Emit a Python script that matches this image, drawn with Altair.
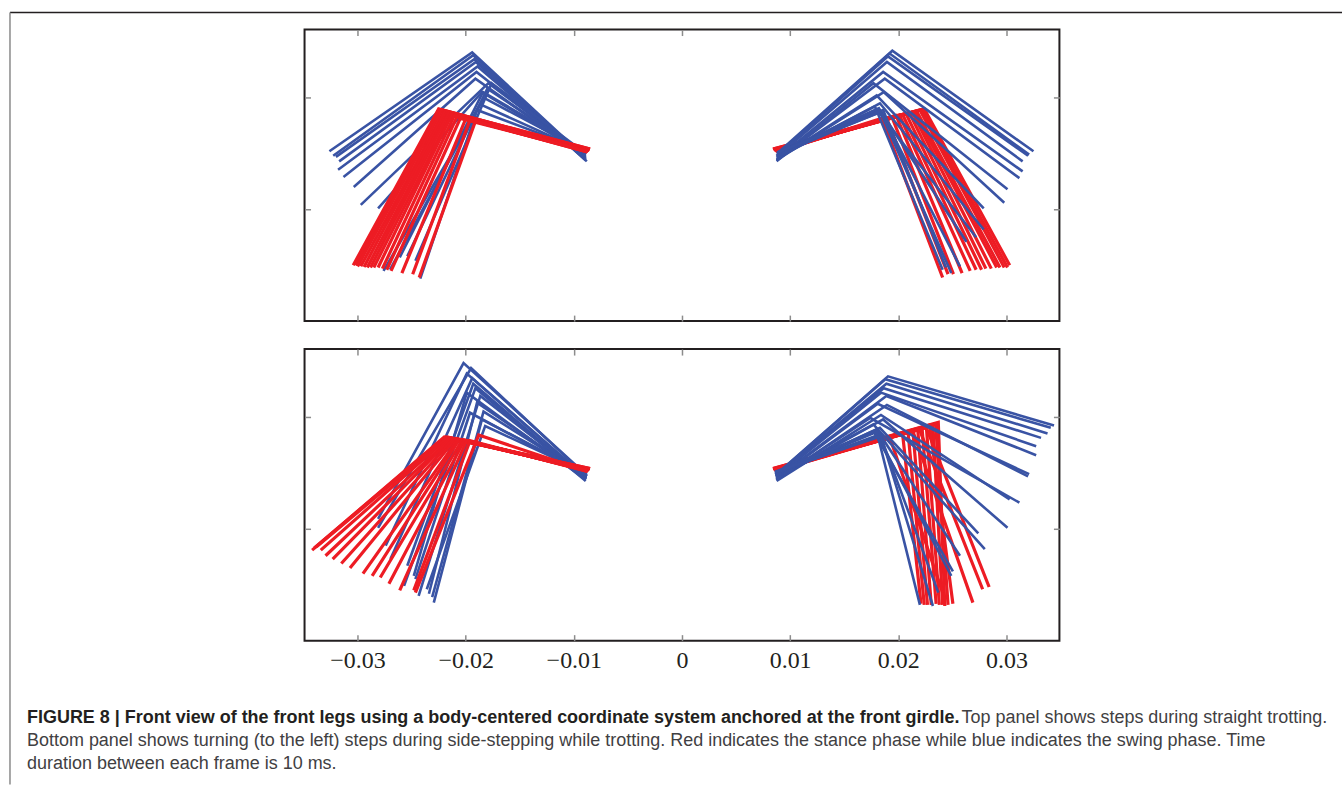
import altair as alt
import pandas as pd

# Leg stick figures seen from the front. One tuple per video frame:
# (hip_x, hip_y, knee_x, knee_y, foot_x, foot_y), in millimetres, in a
# body-centred frame anchored at the front girdle.

# ---- straight trotting ----
TOP_LEFT_SWING = [
    (-8.9, -15.4, -19.4, -5.95, -32.6, -14.8),
    (-8.9, -15.5, -19.3, -6.2, -32.25, -15.2),
    (-8.8, -15.7, -19.2, -6.55, -32.0, -15.3),
    (-8.9, -15.6, -19.05, -6.8, -31.7, -15.7),
    (-8.9, -15.5, -18.9, -7.2, -31.8, -16.45),
    (-8.9, -15.4, -19.0, -7.7, -31.3, -17.1),
    (-8.9, -15.3, -19.1, -8.3, -30.35, -18.0),
    (-8.9, -15.2, -17.9, -8.7, -29.7, -19.6),
    (-8.9, -15.1, -18.5, -9.5, -28.1, -19.9),
    (-8.9, -15.0, -17.6, -8.7, -24.65, -24.6),
    (-8.9, -15.0, -18.0, -9.2, -25.4, -24.2),
    (-8.8, -14.9, -18.4, -9.5, -26.1, -24.3),
    (-8.8, -14.9, -18.35, -10.0, -27.0, -25.4),
    (-8.8, -14.9, -18.65, -10.6, -27.6, -25.5),
    (-8.8, -14.8, -18.95, -11.1, -24.2, -26.2),
]
TOP_LEFT_STANCE = [
    (-8.5, -14.6, -22.5, -11.0, -30.4, -25.0),
    (-8.5, -14.6, -22.35, -11.07, -30.2, -25.0),
    (-8.55, -14.65, -22.2, -11.1, -30.0, -25.1),
    (-8.55, -14.65, -22.0, -11.2, -29.7, -25.1),
    (-8.6, -14.7, -21.9, -11.25, -29.4, -25.15),
    (-8.6, -14.7, -21.7, -11.3, -29.1, -25.2),
    (-8.6, -14.7, -21.6, -11.4, -28.8, -25.2),
    (-8.65, -14.75, -21.4, -11.5, -28.5, -25.2),
    (-8.65, -14.75, -21.3, -11.55, -28.1, -25.2),
    (-8.65, -14.75, -21.05, -11.6, -27.7, -25.3),
    (-8.7, -14.8, -20.8, -11.7, -27.3, -25.4),
    (-8.7, -14.8, -20.5, -11.85, -26.9, -25.5),
    (-8.7, -14.8, -20.0, -11.9, -25.9, -25.7),
    (-8.75, -14.85, -19.6, -12.0, -24.9, -25.8),
    (-8.75, -14.85, -19.1, -12.1, -24.3, -26.1),
]
TOP_RIGHT_SWING = [
    (8.8, -15.0, 19.45, -5.8, 32.5, -14.8),
    (8.8, -15.1, 19.2, -6.05, 32.1, -15.1),
    (8.75, -15.2, 19.05, -6.3, 32.0, -15.2),
    (8.75, -15.3, 18.95, -6.8, 31.5, -15.7),
    (8.75, -15.5, 18.6, -7.7, 31.5, -16.6),
    (8.75, -15.6, 18.75, -8.3, 31.2, -17.2),
    (8.75, -15.7, 17.7, -8.7, 30.1, -18.2),
    (8.75, -15.6, 18.65, -9.5, 29.8, -19.4),
    (8.8, -15.5, 18.0, -9.8, 27.9, -19.9),
    (8.8, -15.4, 18.3, -10.5, 27.9, -21.8),
    (8.8, -15.3, 17.8, -10.8, 27.2, -22.5),
    (8.8, -15.2, 18.3, -11.1, 26.3, -22.9),
    (8.8, -15.1, 18.4, -11.25, 25.7, -25.1),
    (8.8, -15.0, 18.2, -10.95, 24.9, -25.7),
    (8.8, -14.9, 18.6, -11.1, 24.4, -25.2),
    (8.8, -14.9, 18.1, -11.4, 24.1, -25.4),
]
TOP_RIGHT_STANCE = [
    (8.4, -14.6, 22.4, -11.0, 30.3, -25.0),
    (8.45, -14.6, 22.2, -11.07, 30.1, -25.2),
    (8.5, -14.65, 22.0, -11.1, 29.8, -25.2),
    (8.5, -14.65, 21.7, -11.2, 29.4, -25.2),
    (8.55, -14.7, 21.5, -11.25, 29.1, -25.2),
    (8.55, -14.7, 21.3, -11.3, 28.6, -25.3),
    (8.6, -14.7, 21.05, -11.4, 28.1, -25.3),
    (8.6, -14.75, 20.7, -11.4, 27.7, -25.4),
    (8.65, -14.75, 20.4, -11.5, 27.2, -25.4),
    (8.65, -14.8, 20.1, -11.55, 26.65, -25.5),
    (8.7, -14.8, 19.8, -11.6, 25.9, -25.7),
    (8.7, -14.8, 19.4, -11.7, 25.1, -25.8),
    (8.75, -14.85, 18.9, -11.8, 24.6, -25.8),
    (8.75, -14.85, 18.5, -11.85, 24.1, -26.1),
]

# ---- turning while side-stepping ----
BOTTOM_LEFT_SWING = [
    (-8.8, -15.2, -20.2, -5.15, -28.1, -19.1),
    (-8.8, -15.3, -19.5, -5.6, -28.1, -19.9),
    (-8.85, -15.4, -19.9, -6.1, -27.4, -21.5),
    (-8.85, -15.5, -19.4, -6.5, -26.96, -22.7),
    (-8.9, -15.6, -19.3, -7.0, -25.4, -23.3),
    (-8.9, -15.7, -19.1, -7.4, -25.7, -25.1),
    (-8.9, -15.6, -19.9, -7.8, -24.8, -24.2),
    (-8.85, -15.5, -18.65, -8.1, -24.35, -26.0),
    (-8.85, -15.4, -18.95, -8.7, -23.4, -25.8),
    (-8.8, -15.3, -18.35, -9.5, -23.1, -26.1),
    (-8.8, -15.2, -19.6, -9.6, -24.65, -24.5),
    (-8.8, -15.1, -18.5, -10.2, -22.95, -26.6),
    (-8.8, -15.0, -18.2, -10.8, -23.6, -25.4),
]
BOTTOM_LEFT_STANCE = [
    (-8.5, -14.6, -21.98, -11.76, -34.2, -21.9),
    (-8.5, -14.6, -21.85, -11.76, -34.0, -21.7),
    (-8.55, -14.65, -21.7, -11.8, -33.8, -21.6),
    (-8.55, -14.65, -21.6, -11.8, -33.4, -21.9),
    (-8.6, -14.7, -21.4, -11.85, -32.96, -22.4),
    (-8.6, -14.7, -21.3, -11.9, -32.3, -22.7),
    (-8.6, -14.7, -21.1, -11.9, -31.5, -23.1),
    (-8.65, -14.75, -20.9, -11.9, -30.7, -23.5),
    (-8.65, -14.75, -20.7, -11.96, -29.5, -24.0),
    (-8.65, -14.75, -20.6, -12.0, -28.65, -24.2),
    (-8.7, -14.8, -20.3, -12.0, -27.9, -24.35),
    (-8.7, -14.8, -20.1, -12.05, -27.1, -24.9),
    (-8.7, -14.8, -19.9, -12.1, -26.1, -25.5),
    (-8.75, -14.85, -19.6, -12.1, -24.8, -25.5),
    (-8.75, -14.85, -18.8, -11.6, -24.65, -25.7),
]
BOTTOM_RIGHT_SWING = [
    (8.9, -14.97, 19.05, -6.34, 34.4, -10.75),
    (8.9, -15.0, 18.8, -6.6, 34.1, -10.95),
    (8.85, -15.1, 18.9, -7.0, 33.8, -11.45),
    (8.85, -15.2, 18.65, -7.4, 33.2, -11.85),
    (8.8, -15.3, 18.4, -7.8, 32.75, -12.6),
    (8.8, -15.4, 18.9, -8.1, 32.75, -13.4),
    (8.75, -15.5, 18.1, -8.8, 32.1, -15.1),
    (8.75, -15.6, 18.95, -8.9, 32.0, -15.3),
    (8.75, -15.7, 18.4, -9.8, 30.3, -17.35),
    (8.7, -15.6, 17.4, -10.06, 31.2, -17.65),
    (8.7, -15.5, 18.6, -10.2, 30.1, -19.9),
    (8.7, -15.4, 17.7, -10.65, 28.0, -21.8),
    (8.65, -15.3, 18.3, -10.95, 27.4, -20.4),
    (8.65, -15.2, 18.0, -11.1, 25.7, -22.4),
    (8.6, -15.1, 17.8, -11.4, 25.05, -23.8),
    (8.6, -15.0, 18.1, -11.7, 24.9, -24.2),
    (8.6, -15.0, 18.3, -11.55, 23.7, -25.7),
    (8.6, -14.9, 18.0, -11.25, 22.0, -26.8),
    (8.6, -14.9, 18.4, -11.7, 23.2, -26.9),
]
BOTTOM_RIGHT_STANCE = [
    (8.4, -14.6, 23.7, -10.45, 24.3, -26.9),
    (8.45, -14.6, 23.45, -10.6, 24.6, -26.8),
    (8.45, -14.65, 23.2, -10.65, 24.1, -26.8),
    (8.5, -14.65, 22.9, -10.7, 25.05, -26.7),
    (8.5, -14.7, 22.6, -10.9, 23.8, -26.8),
    (8.55, -14.7, 22.2, -11.0, 23.5, -26.7),
    (8.55, -14.7, 21.8, -11.1, 23.05, -26.8),
    (8.6, -14.75, 21.35, -11.2, 22.7, -26.8),
    (8.6, -14.75, 20.9, -11.3, 22.4, -26.8),
    (8.65, -14.8, 20.4, -11.5, 22.1, -26.7),
    (8.6, -14.75, 21.35, -11.25, 26.9, -26.6),
    (8.55, -14.7, 21.95, -11.1, 27.8, -25.4),
    (8.5, -14.7, 22.6, -10.95, 28.4, -25.2),
    (8.7, -14.8, 19.2, -11.76, 24.1, -25.7),
]

X_DOMAIN = [-0.0349, 0.0349]
Y_DOMAIN = [-0.03, -0.0039]
X_TICKS = [-0.03, -0.02, -0.01, 0, 0.01, 0.02, 0.03]
Y_TICKS = [-0.02, -0.01]

SWING_BLUE = "#3953a4"
STANCE_RED = "#ed1c24"
INK = "#231f20"

CAPTION_BOLD = ("FIGURE 8 | Front view of the front legs using a body-centered "
                "coordinate system anchored at the front girdle.")
CAPTION_LINE1 = "Top panel shows steps during straight trotting."
CAPTION_LINE2 = ("Bottom panel shows turning (to the left) steps during side-stepping "
                 "while trotting. Red indicates the stance phase while blue indicates "
                 "the swing phase. Time")
CAPTION_LINE3 = "duration between each frame is 10 ms."


def frames_to_df(frames):
    """Expand frames into hip -> knee -> foot polylines, converted to metres."""
    rows = []
    for i, (hx, hy, kx, ky, fx, fy) in enumerate(frames):
        for j, (x, y) in enumerate([(hx, hy), (kx, ky), (fx, fy)]):
            rows.append({"frame": i, "joint": j, "x": x / 1000.0, "y": y / 1000.0})
    return pd.DataFrame(rows)


def tick_axis(orient, values, labels=False):
    """Inward-pointing ticks: axis pulled inside the frame by its tick length."""
    kw = dict(orient=orient, values=values, domain=False, grid=False, ticks=True,
              tickSize=6, tickColor="#8c8c8c", tickWidth=1.5, offset=-6,
              title=None, labels=labels)
    if labels:
        kw.update(format="~g", labelFont="Liberation Serif", labelFontSize=24,
                  labelColor=INK, labelPadding=8)
    return alt.Axis(**kw)


def legs(frames, color, width, xaxis=None, yaxis=None):
    return alt.Chart(frames_to_df(frames)).mark_line(
        color=color, strokeWidth=width, strokeJoin="miter"
    ).encode(
        x=alt.X("x:Q", scale=alt.Scale(domain=X_DOMAIN, nice=False, zero=False), axis=xaxis),
        y=alt.Y("y:Q", scale=alt.Scale(domain=Y_DOMAIN, nice=False, zero=False), axis=yaxis),
        detail="frame:N",
        order="joint:O",
    )


def panel(swing_l, stance_l, stance_r, swing_r, xlabels, extra=()):
    layers = [
        legs(swing_l, SWING_BLUE, 2.6,
             tick_axis("bottom", X_TICKS, xlabels), tick_axis("left", Y_TICKS)),
        legs(stance_l, STANCE_RED, 3.2),
        legs(stance_r, STANCE_RED, 3.2),
        legs(swing_r, SWING_BLUE, 2.6,
             tick_axis("top", X_TICKS), tick_axis("right", Y_TICKS)),
    ]
    return alt.layer(*layers, *extra).resolve_scale(
        x="independent", y="independent"
    ).properties(width=756, height=292)


# Page furniture, positioned relative to the lower panel's plot area.
frame_top = alt.Chart(pd.DataFrame({"k": [0]})).mark_rule(
    color=INK, strokeWidth=1.5
).encode(x=alt.value(-295), x2=alt.value(1039), y=alt.value(-337))
frame_left = alt.Chart(pd.DataFrame({"k": [0]})).mark_rule(
    color="#8a8a8a", strokeWidth=1.5
).encode(x=alt.value(-295), y=alt.value(-337), y2=alt.value(436))


def caption(text, x, y, bold=False):
    return alt.Chart(pd.DataFrame({"t": [text]})).mark_text(
        align="left", baseline="alphabetic", font="Liberation Sans",
        fontSize=18, fontWeight="bold" if bold else "normal",
        color=INK if bold else "#414042",
    ).encode(text="t:N", x=alt.value(x), y=alt.value(y))


captions = [
    caption(CAPTION_BOLD, -278, 374, bold=True),
    caption(CAPTION_LINE1, 658, 374),
    caption(CAPTION_LINE2, -278, 398),
    caption(CAPTION_LINE3, -278, 421),
]

top = panel(TOP_LEFT_SWING, TOP_LEFT_STANCE, TOP_RIGHT_STANCE, TOP_RIGHT_SWING, False)
bottom = panel(BOTTOM_LEFT_SWING, BOTTOM_LEFT_STANCE, BOTTOM_RIGHT_STANCE,
               BOTTOM_RIGHT_SWING, True, extra=[frame_top, frame_left, *captions])

chart = alt.vconcat(top, bottom, spacing=28, bounds="flush").properties(
    padding={"left": 8, "top": 10, "right": 0, "bottom": 0}
).configure_view(stroke=INK, strokeWidth=2)

chart.save("out.html", embed_options={"renderer": "svg", "actions": False})
